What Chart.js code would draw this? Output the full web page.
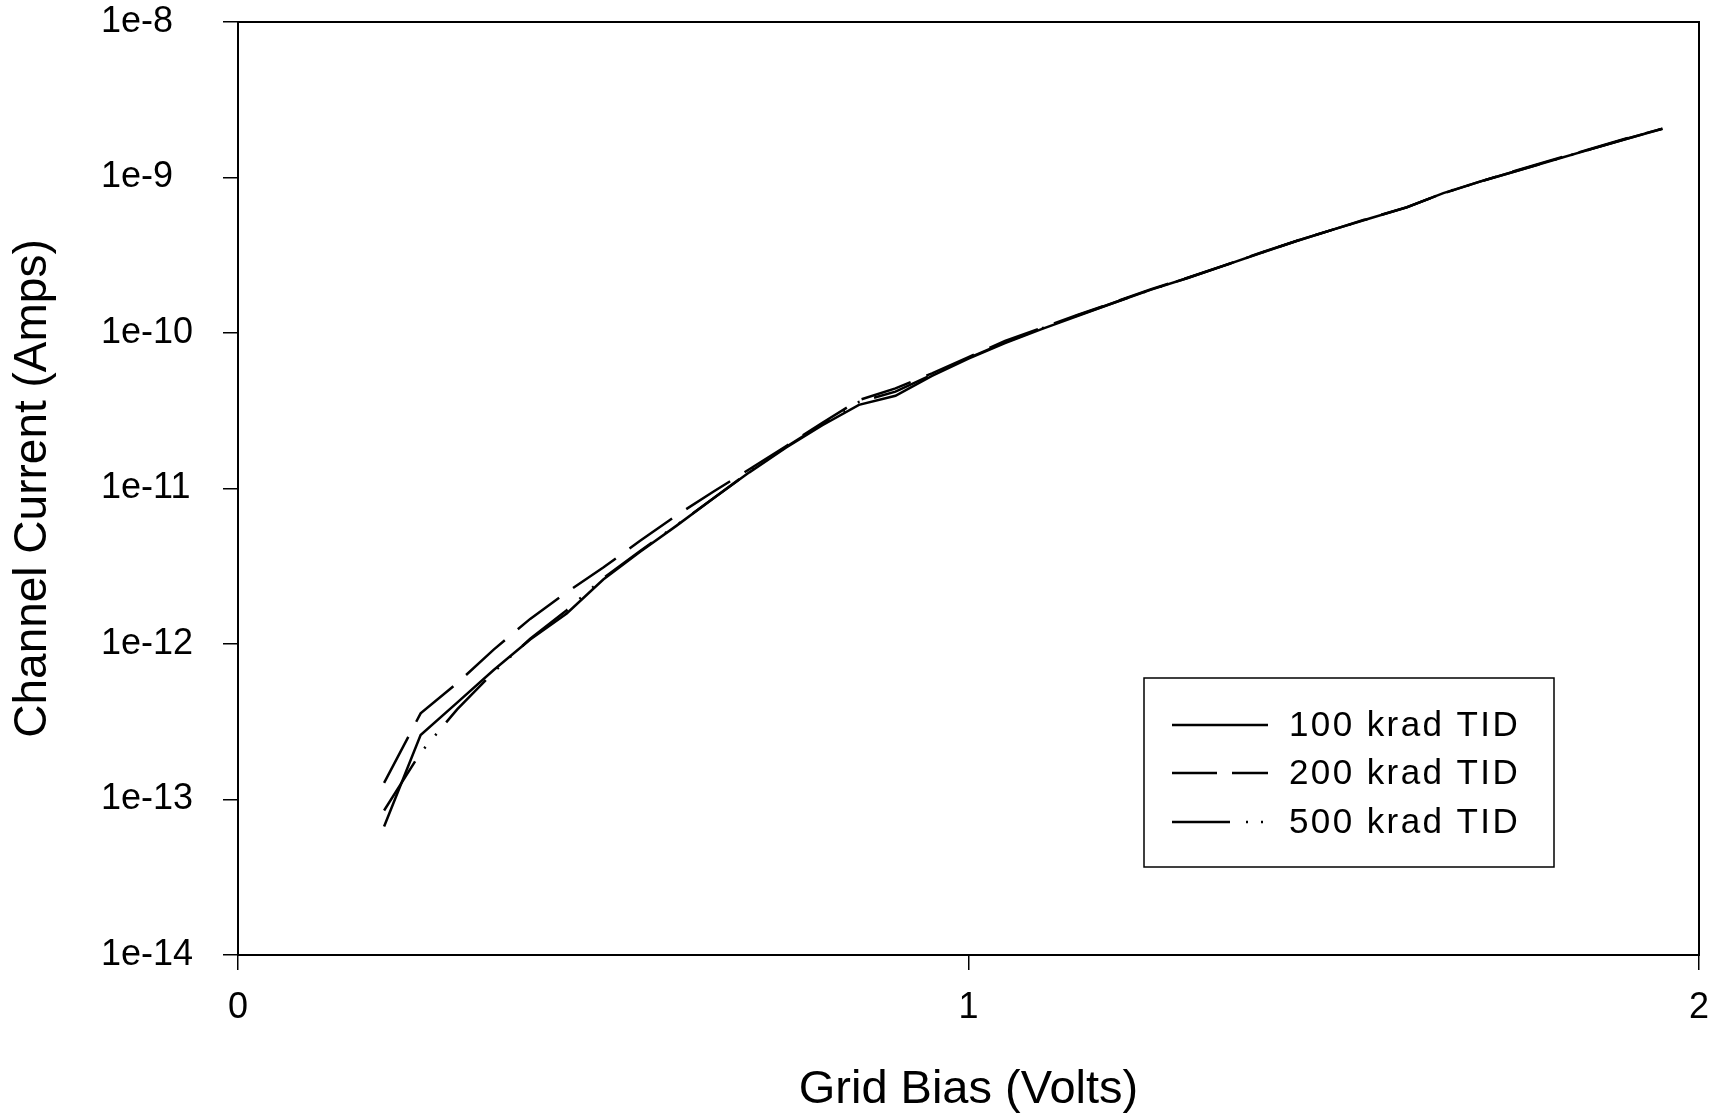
<!DOCTYPE html>
<html>
<head>
<meta charset="utf-8">
<title>Channel Current vs Grid Bias</title>
<script src="https://cdn.jsdelivr.net/npm/chart.js@4/dist/chart.umd.min.js"></script>
<style>
  html, body { margin: 0; padding: 0; background: #fff; }
  canvas { display: block; }
</style>
</head>
<body>
<canvas id="grafico" width="1721" height="1113"></canvas>
<script>
// grid bias (volts)
const bias = [0.20, 0.25, 0.30, 0.35, 0.40, 0.45, 0.50, 0.55, 0.60, 0.65, 0.70, 0.75,
  0.80, 0.85, 0.90, 0.95, 1.00, 1.05, 1.10, 1.15, 1.20, 1.25, 1.30, 1.35,
  1.40, 1.45, 1.50, 1.55, 1.60, 1.65, 1.70, 1.75, 1.80, 1.85, 1.90, 1.95];

// channel current (amps) for each dose
const cur100 = [6.7e-14, 2.6e-13, 4.2e-13, 6.8e-13, 1.07e-12, 1.57e-12, 2.6e-12, 3.9e-12, 5.75e-12, 8.6e-12, 1.27e-11, 1.83e-11,
  2.55e-11, 3.45e-11, 3.95e-11, 5.3e-11, 6.85e-11, 8.6e-11, 1.06e-10, 1.29e-10, 1.57e-10, 1.90e-10, 2.26e-10, 2.71e-10,
  3.27e-10, 3.92e-10, 4.64e-10, 5.47e-10, 6.43e-10, 7.94e-10, 9.4e-10, 1.10e-9, 1.29e-9, 1.51e-9, 1.77e-9, 2.06e-9];
const cur200 = [1.28e-13, 3.58e-13, 5.6e-13, 9.2e-13, 1.45e-12, 2.15e-12, 3.1e-12, 4.6e-12, 6.7e-12, 9.5e-12, 1.33e-11, 1.87e-11,
  2.65e-11, 3.7e-11, 4.4e-11, 5.5e-11, 7.0e-11, 8.9e-11, 1.08e-10, 1.31e-10, 1.58e-10, 1.91e-10, 2.27e-10, 2.72e-10,
  3.28e-10, 3.93e-10, 4.64e-10, 5.5e-10, 6.45e-10, 7.9e-10, 9.4e-10, 1.11e-9, 1.30e-9, 1.52e-9, 1.78e-9, 2.06e-9];
const cur500 = [8.5e-14, 2.0e-13, 3.8e-13, 6.6e-13, 1.08e-12, 1.65e-12, 2.65e-12, 3.95e-12, 5.8e-12, 8.6e-12, 1.28e-11, 1.85e-11,
  2.6e-11, 3.6e-11, 4.2e-11, 5.4e-11, 6.9e-11, 8.7e-11, 1.07e-10, 1.30e-10, 1.57e-10, 1.90e-10, 2.26e-10, 2.71e-10,
  3.27e-10, 3.92e-10, 4.64e-10, 5.47e-10, 6.43e-10, 7.94e-10, 9.4e-10, 1.10e-9, 1.29e-9, 1.51e-9, 1.77e-9, 2.06e-9];

const labels = ['100 krad TID', '200 krad TID', '500 krad TID'];
const yTicks = [1e-14, 1e-13, 1e-12, 1e-11, 1e-10, 1e-9, 1e-8];
const xTicks = [0, 1, 2];

const fonte = '"Liberation Sans", Arial, sans-serif';

function pontos(ys) {
  return bias.map((x, i) => ({ x: x, y: ys[i] }));
}

// moldura, legenda e titulos dos eixos
const extras = {
  id: 'extras',
  afterDraw(chart) {
    const ctx = chart.ctx;
    const a = chart.chartArea;
    ctx.save();
    ctx.strokeStyle = '#000';
    ctx.fillStyle = '#000';
    ctx.lineWidth = 2;
    ctx.strokeRect(a.left, a.top, a.right - a.left, a.bottom - a.top);

    // legenda
    ctx.lineWidth = 1.5;
    ctx.strokeRect(1144, 678, 410, 189);
    ctx.font = '35px ' + fonte;
    ctx.textBaseline = 'middle';
    ctx.textAlign = 'left';
    if ('letterSpacing' in ctx) ctx.letterSpacing = '2.4px';
    const linhas = [725, 773, 822];
    chart.data.datasets.forEach((ds, i) => {
      ctx.save();
      ctx.lineWidth = 2.5;
      ctx.setLineDash(ds.legendDash || []);
      ctx.beginPath();
      ctx.moveTo(1172, linhas[i]);
      ctx.lineTo(1268, linhas[i]);
      ctx.stroke();
      ctx.restore();
      ctx.fillText(ds.label, 1289, linhas[i] + 1);
    });
    if ('letterSpacing' in ctx) ctx.letterSpacing = '0px';

    // titulos
    ctx.font = '47px ' + fonte;
    ctx.textAlign = 'center';
    ctx.textBaseline = 'alphabetic';
    ctx.fillText('Grid Bias (Volts)', (a.left + a.right) / 2, 1103);
    ctx.font = '46px ' + fonte;
    ctx.translate(46, (a.top + a.bottom) / 2);
    ctx.rotate(-Math.PI / 2);
    ctx.fillText('Channel Current (Amps)', 0, 0);
    ctx.restore();
  }
};

new Chart(document.getElementById('grafico'), {
  type: 'line',
  data: {
    datasets: [
      { label: labels[0], data: pontos(cur100), borderDash: [], legendDash: [] },
      { label: labels[1], data: pontos(cur200), borderDash: [52, 17], legendDash: [45, 15] },
      { label: labels[2], data: pontos(cur500), borderDash: [58, 16, 2, 15, 2, 15], legendDash: [58, 16, 2, 13, 2, 13] }
    ].map(ds => Object.assign(ds, {
      borderColor: '#000',
      borderWidth: 2.5,
      pointRadius: 0,
      tension: 0,
      fill: false,
      borderCapStyle: 'butt'
    }))
  },
  options: {
    responsive: false,
    animation: false,
    devicePixelRatio: 1,
    layout: { padding: { left: 101, top: 22, right: 22, bottom: 0 } },
    plugins: {
      legend: { display: false },
      tooltip: { enabled: false },
      title: { display: false }
    },
    scales: {
      x: {
        type: 'linear',
        min: 0,
        max: 2,
        afterBuildTicks: s => { s.ticks = xTicks.map(v => ({ value: v })); },
        afterFit: s => { s.height = 158; s.paddingLeft = 0; s.paddingRight = 0; },
        ticks: {
          color: '#000',
          font: { family: fonte, size: 36 },
          padding: 16,
          callback: v => String(v)
        },
        grid: { drawOnChartArea: false, drawTicks: true, tickLength: 15, color: '#000', lineWidth: 1.5 },
        border: { display: true, color: '#000', width: 2 }
      },
      y: {
        type: 'logarithmic',
        min: 1e-14,
        max: 1e-8,
        afterBuildTicks: s => { s.ticks = yTicks.map(v => ({ value: v })); },
        afterFit: s => { s.width = 137; s.paddingTop = 0; s.paddingBottom = 0; },
        ticks: {
          color: '#000',
          font: { family: fonte, size: 36, lineHeight: 1 },
          crossAlign: 'far',
          callback: v => '1e' + Math.round(Math.log10(v))
        },
        grid: { drawOnChartArea: false, drawTicks: true, tickLength: 15, color: '#000', lineWidth: 1.5 },
        border: { display: true, color: '#000', width: 2 }
      }
    }
  },
  plugins: [extras]
});
</script>
</body>
</html>
